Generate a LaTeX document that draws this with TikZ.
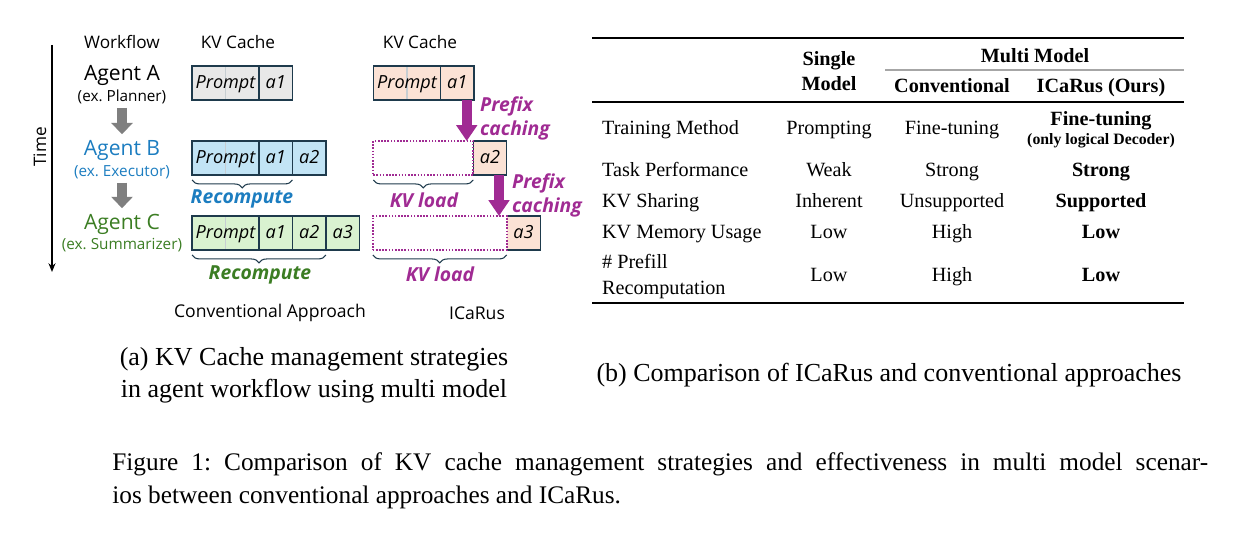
\documentclass[tikz,border=0pt]{standalone}
\usepackage{fontspec}
\setmainfont{Liberation Serif}
\newfontfamily\osans{Open Sans}
\usetikzlibrary{arrows.meta,positioning,decorations.pathreplacing}

\definecolor{cellline}{HTML}{1E3A4C}
\definecolor{grayfill}{HTML}{E8E8E8}
\definecolor{bluefill}{HTML}{C2E4F5}
\definecolor{greenfill}{HTML}{D9F2D0}
\definecolor{peachfill}{HTML}{FBE2D5}
\definecolor{agblue}{HTML}{1C7DC0}
\definecolor{aggreen}{HTML}{3B7D23}
\definecolor{pfxpurple}{HTML}{A02B93}
\definecolor{arrgray}{HTML}{7F7F7F}

\begin{document}
\frenchspacing
\begin{tikzpicture}[
    x=0.02cm, y=-0.02cm,
    hdr/.style={font=\osans\fontsize{9.8}{11}\selectfont, inner sep=1pt},
    agent/.style={font=\osans\fontsize{12}{13}\selectfont, inner sep=1pt},
    agsub/.style={font=\osans\fontsize{8.7}{10}\selectfont, inner sep=1pt},
    cell/.style={draw=cellline, line width=0.7pt, minimum width=0.67cm, minimum height=0.68cm, inner sep=0pt, outer sep=0pt, text height=8pt, text depth=1.5pt, font=\osans\itshape\fontsize{10.3}{11}\selectfont},
    prompt/.style={cell, minimum width=1.34cm, path picture={\draw[cellline!25, line width=0.6pt] (path picture bounding box.north) -- (path picture bounding box.south);}},
    loaded/.style={draw=pfxpurple, line width=0.9pt, dash pattern=on 0.9pt off 0.9pt, fill=white, minimum height=0.68cm, inner sep=0pt, outer sep=0pt},
    brc/.style={decorate, decoration={brace, mirror, amplitude=4.5pt}, draw=cellline, line width=0.6pt},
    note/.style={font=\osans\bfseries\itshape\fontsize{11}{13.7}\selectfont, inner sep=1pt},
    flowarr/.style={-{Triangle[length=6.5pt, width=12pt]}, line width=5.7pt, draw=arrgray, shorten <=1pt, shorten >=2pt},
    pfxarr/.style={-{Triangle[length=9pt, width=11.5pt]}, line width=5.7pt, draw=pfxpurple},
    tab/.style={font=\fontsize{11.5}{14.8}\selectfont, inner sep=1pt, text height=0.68em, text depth=0.22em},
    tabb/.style={font=\bfseries\fontsize{11.5}{14.2}\selectfont, inner sep=1pt, text height=0.68em, text depth=0.22em},
    tabs/.style={font=\bfseries\fontsize{9}{10}\selectfont, inner sep=1pt, text height=0.68em, text depth=0.22em},
    capt/.style={font=\fontsize{14.4}{18.8}\selectfont, inner sep=0pt},
    subcapt/.style={font=\fontsize{14.8}{18.2}\selectfont, inner sep=0pt}
]
\useasboundingbox (0,0) rectangle (1237,540);

% time axis and workflow
\coordinate (tTop) at (52,45);
\coordinate (tBot) at (52,272);
\draw[-{Stealth[length=5pt,width=4pt]}, line width=0.7pt] (tTop) -- (tBot);
\node[hdr, rotate=90] (tlbl) at (40,147) {Time};

\node[hdr] (wf) at (122,42) {Workflow};
\node[hdr] (kv1) at (238,42) {KV Cache};
\node[hdr] (kv2) at (420,42) {KV Cache};

\node[agent] (agA) at (122,75) {Agent A};
\node[agsub] (agAsub) at (122,97) {(ex. Planner)};
\node[agent, text=agblue] (agB) at (122,150) {Agent B};
\node[agsub, text=agblue] (agBsub) at (122,172) {(ex. Executor)};
\node[agent, text=aggreen] (agC) at (122,224) {Agent C};
\node[agsub, text=aggreen] (agCsub) at (122,245) {(ex. Summarizer)};

\draw[flowarr] (agAsub) -- (agB);
\draw[flowarr] (agBsub) -- (agC);

% conventional approach
\node[prompt, fill=grayfill] (cvA) at (225.5,83) {Prompt};
\node[cell, fill=grayfill, right=0pt of cvA] (cvA1) {a1};

\node[prompt, fill=bluefill] (cvB) at (225.5,158) {Prompt};
\node[cell, fill=bluefill, right=0pt of cvB] (cvB1) {a1};
\node[cell, fill=bluefill, right=0pt of cvB1] (cvB2) {a2};

\node[prompt, fill=greenfill] (cvC) at (225.5,233) {Prompt};
\node[cell, fill=greenfill, right=0pt of cvC] (cvC1) {a1};
\node[cell, fill=greenfill, right=0pt of cvC1] (cvC2) {a2};
\node[cell, fill=greenfill, right=0pt of cvC2] (cvC3) {a3};

\draw[brc] ([yshift=-0.1cm]cvB.south west) -- ([yshift=-0.1cm]cvB1.south east);
\draw[brc] ([yshift=-0.1cm]cvC.south west) -- ([yshift=-0.1cm]cvC2.south east);
\node[note, text=agblue] (rcB) at (242,199) {Recompute};
\node[note, text=aggreen] (rcC) at (260,275) {Recompute};

% ICaRus
\node[prompt, fill=peachfill] (icA) at (407,83) {Prompt};
\node[cell, fill=peachfill, right=0pt of icA] (icA1) {a1};

\node[cell, fill=peachfill] (icB2) at (490,158) {a2};
\node[loaded, minimum width=2cm, left=0pt of icB2] (icB) {};

\node[cell, fill=peachfill] (icC3) at (523.5,233) {a3};
\node[loaded, minimum width=2.68cm, left=0pt of icC3] (icC) {};

\draw[pfxarr] ([xshift=0.19cm]icA1.south) -- ([xshift=0.19cm]icA1.south |- icB.north);
\draw[pfxarr] ([xshift=0.18cm]icB2.south) -- ([xshift=0.18cm]icB2.south |- icC.north);
\node[note, text=pfxpurple, anchor=west, align=left] (pfx1) at (478,118) {Prefix\\caching};
\node[note, text=pfxpurple, anchor=west, align=left] (pfx2) at (510,195) {Prefix\\caching};

\draw[brc] ([yshift=-0.1cm]icB.south west) -- ([yshift=-0.1cm]icB.south east);
\draw[brc] ([yshift=-0.1cm]icC.south west) -- ([yshift=-0.1cm]icC.south east);
\node[note, text=pfxpurple] (ldB) at (424,200) {KV load};
\node[note, text=pfxpurple] (ldC) at (440,274) {KV load};

\node[hdr, font=\osans\fontsize{10}{12}\selectfont] (convlbl) at (270,313) {Conventional Approach};
\node[hdr, font=\osans\fontsize{10}{12}\selectfont] (icarlbl) at (477,313) {ICaRus};

% comparison table
\draw[line width=1.1pt] (592,38) -- (1184,38);
\draw[line width=0.6pt, gray!70] (885,70) -- (1184,70);
\draw[line width=0.8pt] (592,102) -- (1184,102);
\draw[line width=1.1pt] (592,303) -- (1184,303);

\node[tabb] (hSingle) at (829,61) {Single};
\node[tabb] (hSingle2) at (829,86) {Model};
\node[tabb] (hMulti) at (1035,58) {Multi Model};
\node[tabb] (hConv) at (952,88) {Conventional};
\node[tabb] (hOurs) at (1101,88) {ICaRus (Ours)};

\node[tab, anchor=west] (rTM) at (600,130) {Training Method};
\node[tab] (tmS) at (829,130) {Prompting};
\node[tab] (tmC) at (952,130) {Fine-tuning};
\node[tabb] (tmI) at (1101,121) {Fine-tuning};
\node[tabs] (tmI2) at (1101,140) {(only logical Decoder)};

\node[tab, anchor=west] (rTP) at (600,172) {Task Performance};
\node[tab] (tpS) at (829,172) {Weak};
\node[tab] (tpC) at (952,172) {Strong};
\node[tabb] (tpI) at (1101,172) {Strong};

\node[tab, anchor=west] (rKS) at (600,203) {KV Sharing};
\node[tab] (ksS) at (829,203) {Inherent};
\node[tab] (ksC) at (952,203) {Unsupported};
\node[tabb] (ksI) at (1101,203) {Supported};

\node[tab, anchor=west] (rKM) at (600,234) {KV Memory Usage};
\node[tab] (kmS) at (829,234) {Low};
\node[tab] (kmC) at (952,234) {High};
\node[tabb] (kmI) at (1101,234) {Low};

\node[tab, anchor=west] (rPR) at (600,264) {\# Prefill};
\node[tab, anchor=west] (rPR2) at (600,290) {Recomputation};
\node[tab] (prS) at (829,277) {Low};
\node[tab] (prC) at (952,277) {High};
\node[tabb] (prI) at (1101,277) {Low};

% captions
\node[subcapt, align=center] (subA) at (314,375) {(a) KV Cache management strategies\\in agent workflow using multi model};
\node[subcapt] (subB) at (889,375) {(b) Comparison of ICaRus and conventional approaches};
\node[capt, anchor=west, text width=21.92cm, align=justify] (figcap) at (112,480.5) {Figure 1: Comparison of KV cache management strategies and effectiveness in multi model scenar-\linebreak ios between conventional approaches and ICaRus.};
\end{tikzpicture}
\end{document}
